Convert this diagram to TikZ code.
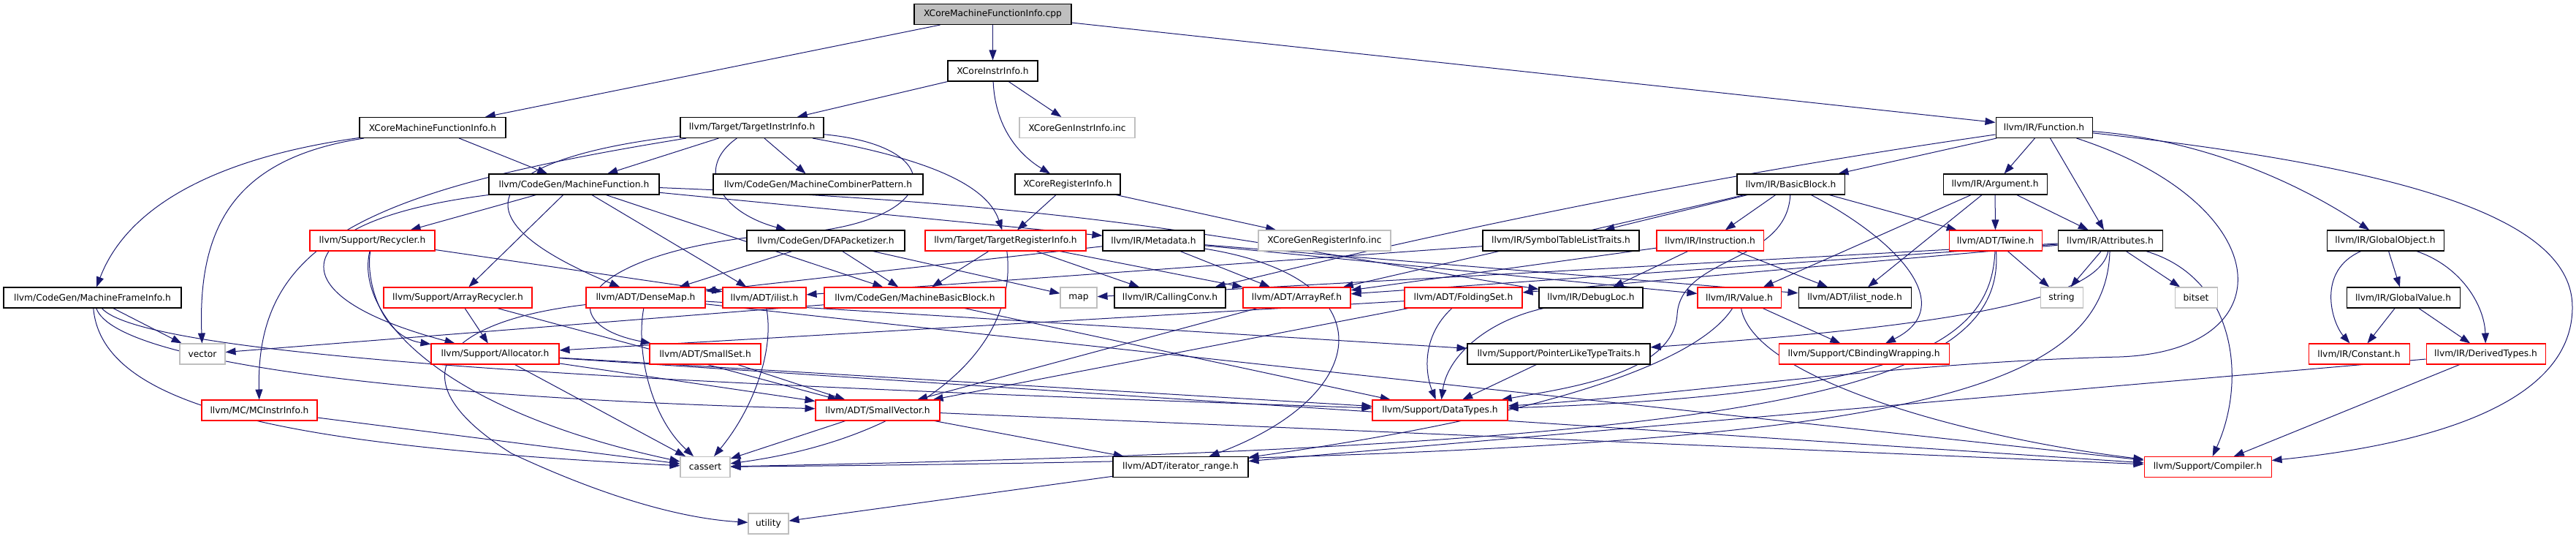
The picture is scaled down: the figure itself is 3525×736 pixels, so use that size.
\documentclass[tikz,border=0pt]{standalone}
\usepackage{fontspec}
\setmainfont{DejaVu Sans}
\usetikzlibrary{arrows.meta}
\definecolor{edgeblue}{HTML}{191970}
\definecolor{boxgray}{HTML}{BFBFBF}
\pgfdeclarelayer{edges}
\pgfsetlayers{edges,main}

\begin{document}
\begin{tikzpicture}[x=0.75pt, y=-0.75pt,
  hdr/.style={draw=black, fill=white, line width=0.8pt, minimum height=21pt, inner sep=0pt,
    font=\fontsize{9.2}{11}\selectfont},
  wd/.style={minimum width=#1*0.75pt},
  trunc/.style={hdr, draw=red},
  ext/.style={hdr, draw=boxgray},
  dep/.style={draw=edgeblue, line width=0.75pt, -{Triangle[length=10.5pt, width=7.5pt]}}]
  \useasboundingbox (0,0) rectangle (3525,736);

  % rang 0 - 2
  \node[hdr, fill=boxgray, wd=215] (root) at (1358.5,19.5) {XCoreMachineFunctionInfo.cpp};
  \node[hdr, wd=123] (xii) at (1358.5,97) {XCoreInstrInfo.h};
  \node[hdr, wd=200] (xmfi) at (592,174.5) {XCoreMachineFunctionInfo.h};
  \node[hdr, wd=196] (tii) at (1029,174.5) {llvm/Target/TargetInstrInfo.h};
  \node[ext, wd=158] (xgii) at (1474,174.5) {XCoreGenInstrInfo.inc};
  \node[hdr, wd=132] (fn) at (2797,174.5) {llvm/IR/Function.h};

  % rang 3 - 4
  \node[hdr, wd=233] (mf) at (785.5,252) {llvm/CodeGen/MachineFunction.h};
  \node[hdr, wd=287] (mcp) at (1119.5,252) {llvm/CodeGen/MachineCombinerPattern.h};
  \node[hdr, wd=144] (xri) at (1461,252) {XCoreRegisterInfo.h};
  \node[hdr, wd=147] (bb) at (2450.5,252) {llvm/IR/BasicBlock.h};
  \node[hdr, wd=142] (arg) at (2730,252) {llvm/IR/Argument.h};
  \node[trunc, wd=171] (recycler) at (509.5,329) {llvm/Support/Recycler.h};
  \node[hdr, wd=216] (dfa) at (1130,329) {llvm/CodeGen/DFAPacketizer.h};
  \node[trunc, wd=220] (tri) at (1376,329) {llvm/Target/TargetRegisterInfo.h};
  \node[hdr, wd=139] (metadata) at (1578.5,329) {llvm/IR/Metadata.h};
  \node[ext, wd=181] (xgri) at (1812.5,329) {XCoreGenRegisterInfo.inc};
  \node[hdr, wd=214] (stlt) at (2136,329) {llvm/IR/SymbolTableListTraits.h};
  \node[trunc, wd=146] (instr) at (2340,329) {llvm/IR/Instruction.h};
  \node[trunc, wd=127] (twine) at (2730.5,329) {llvm/ADT/Twine.h};
  \node[hdr, wd=143] (attr) at (2887.5,329) {llvm/IR/Attributes.h};
  \node[hdr, wd=160] (gobj) at (3264,329) {llvm/IR/GlobalObject.h};

  % rang 5
  \node[hdr, wd=243] (mfi) at (126.5,407) {llvm/CodeGen/MachineFrameInfo.h};
  \node[trunc, wd=203] (arec) at (626.5,407) {llvm/Support/ArrayRecycler.h};
  \node[trunc, wd=163] (densemap) at (883.5,407) {llvm/ADT/DenseMap.h};
  \node[trunc, wd=114] (ilist) at (1046,407) {llvm/ADT/ilist.h};
  \node[trunc, wd=248] (mbb) at (1252,407) {llvm/CodeGen/MachineBasicBlock.h};
  \node[ext, wd=50] (map) at (1476,407) {map};
  \node[hdr, wd=152] (cconv) at (1601,407) {llvm/IR/CallingConv.h};
  \node[trunc, wd=147] (aref) at (1774.5,407) {llvm/ADT/ArrayRef.h};
  \node[trunc, wd=161] (fset) at (2002.5,407) {llvm/ADT/FoldingSet.h};
  \node[hdr, wd=142] (dloc) at (2177,407) {llvm/IR/DebugLoc.h};
  \node[trunc, wd=114] (value) at (2380,407) {llvm/IR/Value.h};
  \node[hdr, wd=154] (inode) at (2538,407) {llvm/ADT/ilist\_node.h};
  \node[ext, wd=58] (string) at (2821,407) {string};
  \node[ext, wd=58] (bitset) at (3005,407) {bitset};
  \node[hdr, wd=155] (gval) at (3288.5,407) {llvm/IR/GlobalValue.h};

  % rang 6 - 9
  \node[ext, wd=62] (vector) at (277,484) {vector};
  \node[trunc, wd=175] (alloc) at (677.5,484) {llvm/Support/Allocator.h};
  \node[trunc, wd=152] (sset) at (965,484) {llvm/ADT/SmallSet.h};
  \node[hdr, wd=250] (pltt) at (2133,484) {llvm/Support/PointerLikeTypeTraits.h};
  \node[trunc, wd=233] (cbw) at (2550.5,484) {llvm/Support/CBindingWrapping.h};
  \node[trunc, wd=138] (const) at (3228,484) {llvm/IR/Constant.h};
  \node[trunc, wd=163] (dtypes) at (3401.5,484) {llvm/IR/DerivedTypes.h};
  \node[trunc, wd=158] (mcii) at (355,561) {llvm/MC/MCInstrInfo.h};
  \node[trunc, wd=170] (svec) at (1201,561) {llvm/ADT/SmallVector.h};
  \node[trunc, wd=185] (dth) at (1970.5,561) {llvm/Support/DataTypes.h};
  \node[ext, wd=68] (cassert) at (965,638.5) {cassert};
  \node[hdr, wd=185] (irange) at (1615.5,638.5) {llvm/ADT/iterator\_range.h};
  \node[trunc, wd=174] (compiler) at (3021,638.5) {llvm/Support/Compiler.h};
  \node[ext, wd=55] (utility) at (1051.5,716) {utility};

  \begin{pgfonlayer}{edges}
    % haut
    \draw[dep] (root) -- (xmfi);
    \draw[dep] (root) -- (xii);
    \draw[dep] (root) -- (fn);
    \draw[dep] (xii) -- (tii);
    \draw[dep] (xii) -- (xgii);
    \draw[dep] (xii) .. controls (1362,180) and (1400,215) .. (xri);
    \draw[dep] (xri) -- (tri);
    \draw[dep] (xri) -- (xgri);
    \draw[dep] (xmfi) -- (mf);
    \draw[dep] (xmfi) .. controls (300,215) and (175,280) .. (mfi);
    \draw[dep] (xmfi) .. controls (330,215) and (270,300) .. (vector);
    % TargetInstrInfo
    \draw[dep] (tii) -- (mf);
    \draw[dep] (tii) -- (mcp);
    \draw[dep] (tii) .. controls (950,230) and (985,290) .. (dfa);
    \draw[dep] (tii) .. controls (1260,215) and (1350,250) .. (tri);
    \draw[dep] (tii) .. controls (680,215) and (600,290) .. (densemap);
    \draw[dep] (tii) .. controls (500,260) and (350,330) .. (mcii);
    \draw[dep] (tii) .. controls (1300,200) and (1290,300) .. (1100,318)
      .. controls (800,335) and (740,440) .. (sset);
    % MachineFunction
    \draw[dep] (mf) -- (recycler);
    \draw[dep] (mf) -- (arec);
    \draw[dep] (mf) .. controls (400,300) and (360,400) .. (alloc);
    \draw[dep] (mf) -- (ilist);
    \draw[dep] (mf) -- (mbb);
    \draw[dep] (mf) -- (metadata);
    \draw[dep] (mf) .. controls (1500,280) and (1700,330) .. (dloc);
    \draw[dep] (recycler) .. controls (500,380) and (520,460) .. (alloc);
    \draw[dep] (recycler) -- (ilist);
    \draw[dep] (recycler) .. controls (485,430) and (600,560) .. (cassert);
    \draw[dep] (arec) -- (alloc);
    \draw[dep] (arec) -- (svec);
    \draw[dep] (dfa) -- (densemap);
    \draw[dep] (dfa) -- (mbb);
    \draw[dep] (dfa) -- (map);
    \draw[dep] (tri) -- (mbb);
    \draw[dep] (tri) -- (cconv);
    \draw[dep] (tri) -- (aref);
    \draw[dep] (tri) .. controls (1395,480) and (1250,600) .. (cassert);
    \draw[dep] (metadata) -- (aref);
    \draw[dep] (metadata) -- (densemap);
    \draw[dep] (metadata) -- (value);
    \draw[dep] (metadata) -- (inode);
    \draw[dep] (metadata) .. controls (1900,380) and (1880,540) .. (irange);
    % Function
    \draw[dep] (fn) -- (bb);
    \draw[dep] (fn) -- (arg);
    \draw[dep] (fn) -- (attr);
    \draw[dep] (fn) .. controls (3000,190) and (3130,240) .. (gobj);
    \draw[dep] (fn) .. controls (2200,260) and (1800,360) .. (cconv);
    \draw[dep] (fn) .. controls (3300,230) and (3520,300) .. (3520,420)
      .. controls (3520,560) and (3300,610) .. (compiler);
    \draw[dep] (fn) .. controls (3120,280) and (3130,480) .. (2900,488)
      .. controls (2600,495) and (2300,540) .. (dth);
    \draw[dep] (bb) -- (stlt);
    \draw[dep] (bb) -- (instr);
    \draw[dep] (bb) -- (twine);
    \draw[dep] (bb) -- (aref);
    \draw[dep] (bb) .. controls (2600,330) and (2680,420) .. (cbw);
    \draw[dep] (bb) .. controls (2445,360) and (2300,350) .. (2295,430)
      .. controls (2290,510) and (2150,530) .. (dth);
    \draw[dep] (arg) -- (twine);
    \draw[dep] (arg) -- (attr);
    \draw[dep] (arg) -- (value);
    \draw[dep] (arg) -- (inode);
    \draw[dep] (instr) -- (dloc);
    \draw[dep] (instr) -- (inode);
    \draw[dep] (instr) -- (aref);
    \draw[dep] (stlt) -- (ilist);
    \draw[dep] (twine) -- (string);
    \draw[dep] (twine) .. controls (2725,470) and (2600,540) .. (dth);
    \draw[dep] (twine) .. controls (2745,540) and (2400,610) .. (cassert);
    \draw[dep] (attr) -- (string);
    \draw[dep] (attr) -- (bitset);
    \draw[dep] (attr) -- (map);
    \draw[dep] (attr) -- (aref);
    \draw[dep] (attr) -- (fset);
    \draw[dep] (attr) .. controls (3060,380) and (3075,520) .. (compiler);
    \draw[dep] (attr) .. controls (2880,570) and (2500,625) .. (cassert);
    \draw[dep] (attr) .. controls (2870,420) and (2600,450) .. (pltt);
    \draw[dep] (gobj) -- (gval);
    \draw[dep] (gobj) .. controls (3170,370) and (3190,440) .. (const);
    \draw[dep] (gobj) .. controls (3370,365) and (3400,420) .. (dtypes);
    \draw[dep] (gval) -- (const);
    \draw[dep] (gval) -- (dtypes);
    \draw[dep] (dtypes) -- (compiler);
    \draw[dep] (dtypes) -- (irange);
    % bas
    \draw[dep] (value) -- (cbw);
    \draw[dep] (value) .. controls (2400,520) and (2700,600) .. (compiler);
    \draw[dep] (value) .. controls (2320,500) and (2100,570) .. (irange);
    \draw[dep] (fset) .. controls (1945,460) and (1950,510) .. (dth);
    \draw[dep] (fset) -- (alloc);
    \draw[dep] (fset) -- (svec);
    \draw[dep] (dloc) .. controls (2030,440) and (1980,490) .. (dth);
    \draw[dep] (pltt) -- (dth);
    \draw[dep] (sset) -- (svec);
    \draw[dep] (svec) -- (cassert);
    \draw[dep] (svec) -- (irange);
    \draw[dep] (svec) -- (compiler);
    \draw[dep] (alloc) -- (svec);
    \draw[dep] (alloc) -- (cassert);
    \draw[dep] (alloc) -- (dth);
    \draw[dep] (alloc) -- (compiler);
    \draw[dep] (aref) -- (svec);
    \draw[dep] (ilist) .. controls (1060,480) and (1030,560) .. (cassert);
    \draw[dep] (densemap) .. controls (870,480) and (890,570) .. (cassert);
    \draw[dep] (densemap) .. controls (600,440) and (540,520) .. (700,620)
      .. controls (850,690) and (950,710) .. (utility);
    \draw[dep] (densemap) -- (compiler);
    \draw[dep] (densemap) -- (pltt);
    \draw[dep] (irange) -- (utility);
    \draw[dep] (mfi) -- (vector);
    \draw[dep] (mfi) .. controls (160,500) and (600,545) .. (svec);
    \draw[dep] (mfi) .. controls (140,560) and (400,610) .. (cassert);
    \draw[dep] (mfi) .. controls (200,490) and (900,525) .. (dth);
    \draw[dep] (mcii) -- (cassert);
    \draw[dep] (mbb) -- (dth);
    \draw[dep] (mbb) -- (vector);
  \end{pgfonlayer}
\end{tikzpicture}
\end{document}
